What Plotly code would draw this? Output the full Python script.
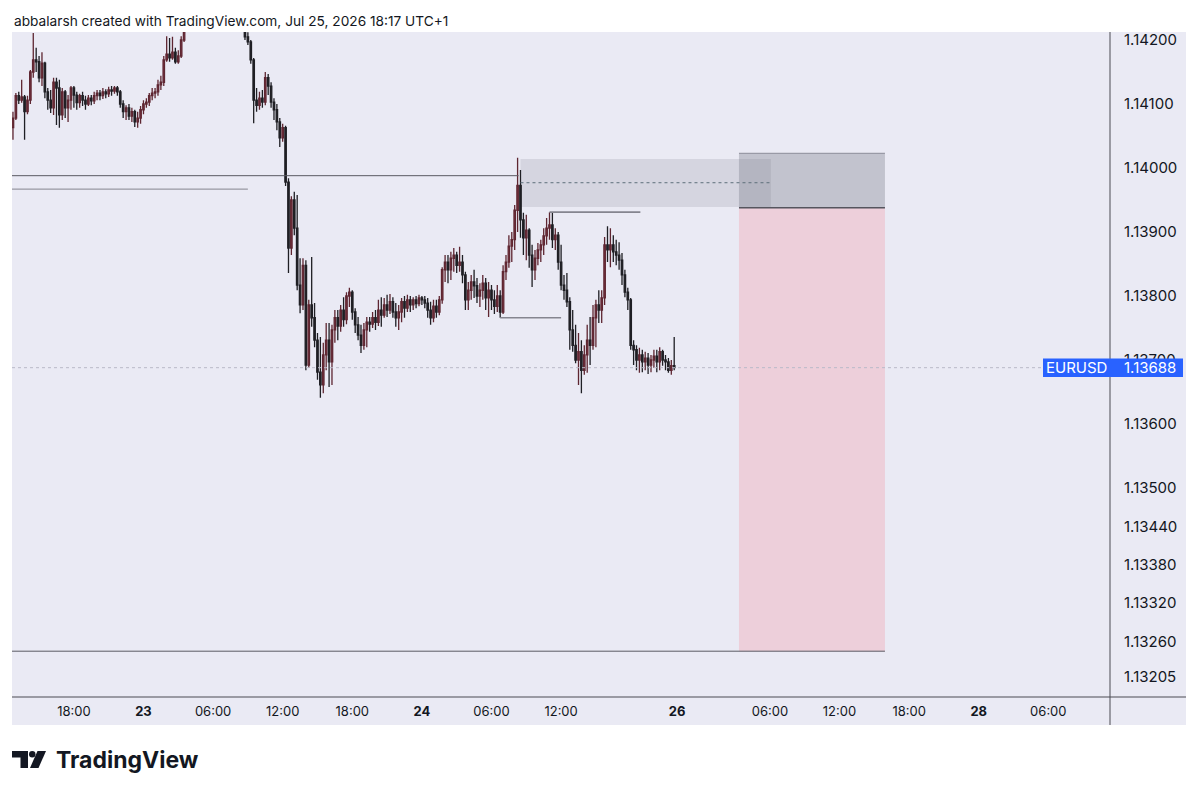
import pandas as pd
import plotly.graph_objects as go

# EURUSD 15 min candles, Jul 22 12:45 -> Jul 24 21:45 (UTC+1)
times = pd.date_range("2026-07-22 12:45", periods=229, freq="15min")

opens = [
    1.14063, 1.14078, 1.14113, 1.14106, 1.14111, 1.14088, 1.14106, 1.14150, 1.14169, 1.14166,
    1.14141, 1.14164, 1.14119, 1.14106, 1.14094, 1.14134, 1.14125, 1.14083, 1.14119, 1.14094,
    1.14106, 1.14125, 1.14114, 1.14102, 1.14113, 1.14106, 1.14100, 1.14109, 1.14105, 1.14113,
    1.14117, 1.14113, 1.14119, 1.14116, 1.14122, 1.14120, 1.14125, 1.14119, 1.14100, 1.14088,
    1.14094, 1.14081, 1.14088, 1.14072, 1.14078, 1.14091, 1.14100, 1.14103, 1.14113, 1.14117,
    1.14119, 1.14130, 1.14134, 1.14169, 1.14178, 1.14172, 1.14181, 1.14166, 1.14175, 1.14200,
    1.14219, 1.14236, 1.14248, 1.14244, 1.14252, 1.14264, 1.14256, 1.14260, 1.14276, 1.14270,
    1.14266, 1.14256, 1.14268, 1.14262, 1.14254, 1.14258, 1.14250, 1.14242, 1.14246, 1.14238,
    1.14228, 1.14205, 1.14197, 1.14169, 1.14106, 1.14098, 1.14109, 1.14103, 1.14141, 1.14128,
    1.14103, 1.14091, 1.14072, 1.14047, 1.14063, 1.13978, 1.13875, 1.13950, 1.13906, 1.13817,
    1.13786, 1.13848, 1.13692, 1.13786, 1.13766, 1.13731, 1.13681, 1.13661, 1.13708, 1.13731,
    1.13697, 1.13747, 1.13766, 1.13753, 1.13778, 1.13763, 1.13800, 1.13806, 1.13775, 1.13755,
    1.13739, 1.13723, 1.13747, 1.13759, 1.13756, 1.13766, 1.13759, 1.13778, 1.13770, 1.13786,
    1.13778, 1.13791, 1.13775, 1.13766, 1.13775, 1.13791, 1.13781, 1.13794, 1.13786, 1.13794,
    1.13788, 1.13797, 1.13794, 1.13789, 1.13778, 1.13766, 1.13784, 1.13775, 1.13794, 1.13841,
    1.13853, 1.13841, 1.13859, 1.13864, 1.13848, 1.13853, 1.13833, 1.13794, 1.13809, 1.13822,
    1.13816, 1.13800, 1.13809, 1.13820, 1.13797, 1.13809, 1.13794, 1.13784, 1.13800, 1.13775,
    1.13838, 1.13853, 1.13878, 1.13888, 1.13934, 1.13973, 1.13919, 1.13891, 1.13903, 1.13864,
    1.13841, 1.13859, 1.13872, 1.13880, 1.13894, 1.13906, 1.13911, 1.13888, 1.13895, 1.13853,
    1.13817, 1.13809, 1.13791, 1.13747, 1.13723, 1.13700, 1.13713, 1.13684, 1.13708, 1.13731,
    1.13723, 1.13766, 1.13786, 1.13778, 1.13797, 1.13880, 1.13872, 1.13880, 1.13869, 1.13864,
    1.13856, 1.13833, 1.13806, 1.13794, 1.13723, 1.13716, 1.13700, 1.13708, 1.13697, 1.13703,
    1.13692, 1.13700, 1.13706, 1.13697, 1.13713, 1.13700, 1.13697, 1.13684, 1.13691,
]
highs = [
    1.14088, 1.14117, 1.14119, 1.14138, 1.14114, 1.14113, 1.14153, 1.14211, 1.14188, 1.14175,
    1.14181, 1.14166, 1.14125, 1.14122, 1.14141, 1.14141, 1.14138, 1.14125, 1.14122, 1.14114,
    1.14128, 1.14128, 1.14119, 1.14116, 1.14119, 1.14113, 1.14114, 1.14114, 1.14119, 1.14122,
    1.14122, 1.14125, 1.14123, 1.14127, 1.14128, 1.14128, 1.14128, 1.14122, 1.14106, 1.14098,
    1.14100, 1.14094, 1.14091, 1.14088, 1.14097, 1.14106, 1.14109, 1.14117, 1.14125, 1.14125,
    1.14138, 1.14144, 1.14175, 1.14206, 1.14203, 1.14205, 1.14188, 1.14184, 1.14206, 1.14228,
    1.14242, 1.14255, 1.14262, 1.14258, 1.14270, 1.14275, 1.14268, 1.14282, 1.14290, 1.14284,
    1.14278, 1.14272, 1.14280, 1.14274, 1.14266, 1.14268, 1.14262, 1.14256, 1.14258, 1.14250,
    1.14238, 1.14212, 1.14200, 1.14172, 1.14125, 1.14119, 1.14122, 1.14150, 1.14147, 1.14134,
    1.14109, 1.14100, 1.14078, 1.14069, 1.14066, 1.13984, 1.13956, 1.13963, 1.13958, 1.13859,
    1.13859, 1.13856, 1.13794, 1.13861, 1.13789, 1.13742, 1.13736, 1.13727, 1.13758, 1.13758,
    1.13755, 1.13778, 1.13778, 1.13786, 1.13798, 1.13806, 1.13813, 1.13809, 1.13781, 1.13767,
    1.13755, 1.13758, 1.13767, 1.13767, 1.13775, 1.13778, 1.13794, 1.13798, 1.13797, 1.13802,
    1.13803, 1.13798, 1.13789, 1.13786, 1.13797, 1.13800, 1.13802, 1.13800, 1.13798, 1.13800,
    1.13802, 1.13800, 1.13800, 1.13797, 1.13791, 1.13794, 1.13794, 1.13800, 1.13845, 1.13864,
    1.13864, 1.13869, 1.13875, 1.13869, 1.13877, 1.13864, 1.13838, 1.13822, 1.13833, 1.13841,
    1.13828, 1.13820, 1.13833, 1.13828, 1.13822, 1.13817, 1.13809, 1.13817, 1.13809, 1.13848,
    1.13864, 1.13895, 1.13900, 1.13942, 1.14016, 1.13997, 1.13930, 1.13927, 1.13906, 1.13880,
    1.13872, 1.13883, 1.13888, 1.13906, 1.13922, 1.13931, 1.13930, 1.13906, 1.13900, 1.13880,
    1.13833, 1.13836, 1.13798, 1.13778, 1.13755, 1.13742, 1.13731, 1.13723, 1.13755, 1.13767,
    1.13786, 1.13794, 1.13809, 1.13809, 1.13892, 1.13909, 1.13906, 1.13895, 1.13888, 1.13884,
    1.13867, 1.13841, 1.13813, 1.13797, 1.13731, 1.13723, 1.13719, 1.13716, 1.13713, 1.13711,
    1.13708, 1.13716, 1.13716, 1.13720, 1.13716, 1.13708, 1.13703, 1.13700, 1.13736,
]
lows = [
    1.14044, 1.14075, 1.14100, 1.14102, 1.14044, 1.14084, 1.14100, 1.14141, 1.14150, 1.14134,
    1.14128, 1.14109, 1.14091, 1.14086, 1.14083, 1.14067, 1.14063, 1.14075, 1.14078, 1.14072,
    1.14091, 1.14094, 1.14091, 1.14094, 1.14097, 1.14091, 1.14097, 1.14098, 1.14100, 1.14106,
    1.14106, 1.14108, 1.14109, 1.14111, 1.14113, 1.14116, 1.14113, 1.14094, 1.14078, 1.14075,
    1.14075, 1.14072, 1.14064, 1.14063, 1.14069, 1.14084, 1.14094, 1.14097, 1.14106, 1.14109,
    1.14113, 1.14122, 1.14128, 1.14166, 1.14166, 1.14169, 1.14163, 1.14163, 1.14172, 1.14197,
    1.14216, 1.14230, 1.14238, 1.14234, 1.14246, 1.14250, 1.14244, 1.14255, 1.14262, 1.14258,
    1.14250, 1.14246, 1.14255, 1.14248, 1.14240, 1.14244, 1.14236, 1.14232, 1.14230, 1.14222,
    1.14200, 1.14192, 1.14163, 1.14070, 1.14088, 1.14091, 1.14094, 1.14098, 1.14114, 1.14094,
    1.14075, 1.14059, 1.14033, 1.14041, 1.13972, 1.13836, 1.13864, 1.13895, 1.13809, 1.13773,
    1.13778, 1.13684, 1.13688, 1.13752, 1.13720, 1.13669, 1.13641, 1.13648, 1.13684, 1.13658,
    1.13661, 1.13727, 1.13731, 1.13744, 1.13752, 1.13756, 1.13783, 1.13763, 1.13742, 1.13731,
    1.13711, 1.13716, 1.13720, 1.13744, 1.13750, 1.13747, 1.13753, 1.13752, 1.13766, 1.13767,
    1.13772, 1.13766, 1.13752, 1.13747, 1.13759, 1.13766, 1.13775, 1.13775, 1.13778, 1.13781,
    1.13784, 1.13786, 1.13781, 1.13766, 1.13755, 1.13759, 1.13766, 1.13770, 1.13788, 1.13822,
    1.13820, 1.13825, 1.13838, 1.13836, 1.13838, 1.13820, 1.13778, 1.13778, 1.13794, 1.13797,
    1.13789, 1.13783, 1.13794, 1.13778, 1.13767, 1.13778, 1.13772, 1.13775, 1.13766, 1.13772,
    1.13825, 1.13844, 1.13853, 1.13872, 1.13900, 1.13891, 1.13864, 1.13856, 1.13844, 1.13814,
    1.13825, 1.13848, 1.13853, 1.13864, 1.13880, 1.13888, 1.13875, 1.13872, 1.13841, 1.13809,
    1.13794, 1.13783, 1.13716, 1.13713, 1.13695, 1.13661, 1.13648, 1.13677, 1.13680, 1.13692,
    1.13716, 1.13720, 1.13758, 1.13758, 1.13786, 1.13853, 1.13845, 1.13853, 1.13848, 1.13841,
    1.13817, 1.13798, 1.13778, 1.13716, 1.13692, 1.13684, 1.13680, 1.13681, 1.13684, 1.13678,
    1.13681, 1.13688, 1.13681, 1.13684, 1.13691, 1.13684, 1.13680, 1.13677, 1.13684,
]
closes = [
    1.14078, 1.14113, 1.14106, 1.14111, 1.14088, 1.14106, 1.14150, 1.14169, 1.14166, 1.14141,
    1.14164, 1.14119, 1.14106, 1.14094, 1.14134, 1.14125, 1.14083, 1.14119, 1.14094, 1.14106,
    1.14125, 1.14114, 1.14102, 1.14113, 1.14106, 1.14100, 1.14109, 1.14105, 1.14113, 1.14117,
    1.14113, 1.14119, 1.14116, 1.14122, 1.14120, 1.14125, 1.14119, 1.14100, 1.14088, 1.14094,
    1.14081, 1.14088, 1.14072, 1.14078, 1.14091, 1.14100, 1.14103, 1.14113, 1.14117, 1.14119,
    1.14130, 1.14134, 1.14169, 1.14178, 1.14172, 1.14181, 1.14166, 1.14175, 1.14200, 1.14219,
    1.14236, 1.14248, 1.14244, 1.14252, 1.14264, 1.14256, 1.14260, 1.14276, 1.14270, 1.14266,
    1.14256, 1.14268, 1.14262, 1.14254, 1.14258, 1.14250, 1.14242, 1.14246, 1.14238, 1.14228,
    1.14205, 1.14197, 1.14169, 1.14106, 1.14098, 1.14109, 1.14103, 1.14141, 1.14128, 1.14103,
    1.14091, 1.14072, 1.14047, 1.14063, 1.13978, 1.13875, 1.13950, 1.13906, 1.13817, 1.13786,
    1.13848, 1.13692, 1.13786, 1.13766, 1.13731, 1.13681, 1.13661, 1.13708, 1.13731, 1.13697,
    1.13747, 1.13766, 1.13753, 1.13778, 1.13763, 1.13800, 1.13806, 1.13775, 1.13755, 1.13739,
    1.13723, 1.13747, 1.13759, 1.13756, 1.13766, 1.13759, 1.13778, 1.13770, 1.13786, 1.13778,
    1.13791, 1.13775, 1.13766, 1.13775, 1.13791, 1.13781, 1.13794, 1.13786, 1.13794, 1.13788,
    1.13797, 1.13794, 1.13789, 1.13778, 1.13766, 1.13784, 1.13775, 1.13794, 1.13841, 1.13853,
    1.13841, 1.13859, 1.13864, 1.13848, 1.13853, 1.13833, 1.13794, 1.13809, 1.13822, 1.13816,
    1.13800, 1.13809, 1.13820, 1.13797, 1.13809, 1.13794, 1.13784, 1.13800, 1.13775, 1.13838,
    1.13853, 1.13878, 1.13888, 1.13934, 1.13973, 1.13919, 1.13891, 1.13903, 1.13864, 1.13841,
    1.13859, 1.13872, 1.13880, 1.13894, 1.13906, 1.13911, 1.13888, 1.13895, 1.13853, 1.13817,
    1.13809, 1.13791, 1.13747, 1.13723, 1.13700, 1.13713, 1.13684, 1.13708, 1.13731, 1.13723,
    1.13766, 1.13786, 1.13778, 1.13797, 1.13880, 1.13872, 1.13880, 1.13869, 1.13864, 1.13856,
    1.13833, 1.13806, 1.13794, 1.13723, 1.13716, 1.13700, 1.13708, 1.13697, 1.13703, 1.13692,
    1.13700, 1.13706, 1.13697, 1.13713, 1.13700, 1.13697, 1.13684, 1.13691, 1.13688,
]

last_price = 1.13688

# drawn levels on the chart: (price, start, end)
levels = [
    (1.13988, "2026-07-22 12:40", "2026-07-24 08:20"),
    (1.13967, "2026-07-22 12:40", "2026-07-23 09:00"),
    (1.13931, "2026-07-24 11:00", "2026-07-24 18:50"),
    (1.13766, "2026-07-24 06:45", "2026-07-24 12:00"),
    (1.13245, "2026-07-22 12:40", "2026-07-27 15:55"),
]
zone_top, zone_mid, zone_bottom = 1.14014, 1.13977, 1.13939
zone_start, zone_end = "2026-07-24 08:30", "2026-07-27 06:05"
stop_price, entry_price, target_price = 1.14023, 1.13938, 1.13245
pos_start, pos_end = "2026-07-27 03:20", "2026-07-27 15:55"

price_ticks = [1.14200, 1.14100, 1.14000, 1.13900, 1.13800, 1.13700, 1.13600,
               1.13500, 1.13440, 1.13380, 1.13320, 1.13260, 1.13205]
time_ticks = ["2026-07-22 18:00", "2026-07-23 00:00", "2026-07-23 06:00", "2026-07-23 12:00",
              "2026-07-23 18:00", "2026-07-24 00:00", "2026-07-24 06:00", "2026-07-24 12:00",
              "2026-07-26 22:00", "2026-07-27 06:00", "2026-07-27 12:00", "2026-07-27 18:00",
              "2026-07-28 00:00", "2026-07-28 06:00"]
time_labels = ["18:00", "<b>23</b>", "06:00", "12:00", "18:00", "<b>24</b>", "06:00", "12:00",
               "<b>26</b>", "06:00", "12:00", "18:00", "<b>28</b>", "06:00"]

# the page body adds an 8px offset, so the figure is 8px smaller and
# everything below is given in page pixels
OFF = 8
FW, FH = 1200 - OFF, 794 - OFF
L, R, T, B = 12, 1110, 32, 697  # plot box, page pixels
BG = "#EAEAF4"
INK = "#131722"


def px(x):
    return (x - L) / (R - L)


def py(y):
    return (B - y) / (B - T)


fig = go.Figure()
fig.add_trace(go.Candlestick(
    x=times, open=opens, high=highs, low=lows, close=closes,
    increasing=dict(line=dict(color="#5e2631", width=1.3), fillcolor="#B04A5E"),
    decreasing=dict(line=dict(color="#1f1f24", width=1.3), fillcolor="#1f1f24"),
    whiskerwidth=0, hoverinfo="skip", showlegend=False,
))

shapes = []
# lavender axis panes + separators
shapes.append(dict(type="rect", xref="paper", yref="paper", x0=px(1110), x1=px(1186),
                   y0=py(697), y1=py(32), fillcolor=BG, line_width=0, layer="below"))
shapes.append(dict(type="rect", xref="paper", yref="paper", x0=px(12), x1=px(1186),
                   y0=py(725), y1=py(697), fillcolor=BG, line_width=0, layer="below"))
shapes.append(dict(type="line", xref="paper", yref="paper", x0=px(1110), x1=px(1110),
                   y0=py(725), y1=py(32), line=dict(color="#4a4a52", width=1)))
shapes.append(dict(type="line", xref="paper", yref="paper", x0=px(12), x1=px(1186),
                   y0=0, y1=0, line=dict(color="#4a4a52", width=1)))

# zone box with dotted mid line
shapes.append(dict(type="rect", x0=zone_start, x1=zone_end, y0=zone_bottom, y1=zone_top,
                   fillcolor="rgba(150,150,162,0.25)", line_width=0, layer="below"))
shapes.append(dict(type="line", x0=zone_start, x1=zone_end, y0=zone_mid, y1=zone_mid,
                   line=dict(color="#5d6f7a", width=1, dash="dot")))

# short position tool
shapes.append(dict(type="rect", x0=pos_start, x1=pos_end, y0=target_price, y1=entry_price,
                   fillcolor="#EDCFDA", line_width=0, layer="below"))
shapes.append(dict(type="rect", x0=pos_start, x1=pos_end, y0=entry_price, y1=stop_price,
                   fillcolor="rgba(120,123,134,0.35)", line_width=0, layer="below"))
shapes.append(dict(type="line", x0=pos_start, x1=pos_end, y0=stop_price, y1=stop_price,
                   line=dict(color="rgba(110,110,122,0.7)", width=1)))
shapes.append(dict(type="line", x0=pos_start, x1=pos_end, y0=entry_price, y1=entry_price,
                   line=dict(color="#55555e", width=1.5)))

# horizontal levels
for i, (p, t0, t1) in enumerate(levels):
    col = "#5a5a63" if i in (0, 4) else "#85858f"
    w = 1 if i in (0, 1, 4) else 1.6
    shapes.append(dict(type="line", x0=t0, x1=t1, y0=p, y1=p, line=dict(color=col, width=w)))

# last price line
shapes.append(dict(type="line", xref="paper", x0=0, x1=1, y0=last_price, y1=last_price,
                   line=dict(color="#b9b9c8", width=1, dash="dot")))

# price label
shapes.append(dict(type="rect", xref="paper", x0=px(1043), x1=px(1183),
                   y0=last_price - 0.000145, y1=last_price + 0.000145,
                   fillcolor="#2962FF", line_width=0))


# TradingView logo mark
def path(points):
    return "M " + " L ".join(f"{px(x)},{py(y)}" for x, y in points) + " Z"


shapes.append(dict(type="path", xref="paper", yref="paper", fillcolor=INK, line_width=0,
                   path=path([(12, 751), (28, 751), (28, 768), (20.5, 768), (20.5, 757.5), (12, 757.5)])))
shapes.append(dict(type="circle", xref="paper", yref="paper", fillcolor=INK, line_width=0,
                   x0=px(29), x1=px(35.5), y0=py(757.5), y1=py(751)))
shapes.append(dict(type="path", xref="paper", yref="paper", fillcolor=INK, line_width=0,
                   path=path([(37.5, 751), (46, 751), (38.5, 768), (30, 768)])))

annotations = [
    dict(xref="paper", yref="paper", x=px(12), y=py(21), xanchor="left", yanchor="middle",
         text="abbalarsh created with TradingView.com, Jul 25, 2026 18:17 UTC+1",
         showarrow=False, font=dict(family="Inter", size=13.7, color=INK)),
    dict(xref="paper", yref="paper", x=px(54), y=py(760), xanchor="left", yanchor="middle",
         text="<b>TradingView</b>", showarrow=False,
         font=dict(family="Inter", size=23, color=INK)),
    dict(xref="paper", yref="y", x=px(1076), y=last_price, xanchor="center", yanchor="middle",
         text="EURUSD", showarrow=False, font=dict(family="Inter", size=15, color="white")),
    dict(xref="paper", yref="y", x=px(1150), y=last_price, xanchor="center", yanchor="middle",
         text=f"{last_price:.5f}", showarrow=False, font=dict(family="Inter", size=15, color="white")),
]

fig.update_layout(
    width=FW, height=FH,
    margin=dict(l=L - OFF, r=FW - (R - OFF), t=T - OFF, b=FH - (B - OFF)),
    paper_bgcolor="white", plot_bgcolor=BG,
    shapes=shapes, annotations=annotations,
    font=dict(family="Inter", color=INK),
    xaxis=dict(
        type="date",
        range=["2026-07-22 12:40", "2026-07-28 11:19"],
        rangebreaks=[dict(values=["2026-07-24 22:00:00"], dvalue=2 * 24 * 3600 * 1000)],
        rangeslider=dict(visible=False),
        tickvals=time_ticks, ticktext=time_labels,
        ticks="outside", ticklen=2, tickcolor="rgba(0,0,0,0)",
        tickfont=dict(family="Inter", size=13, color=INK),
        showgrid=False, zeroline=False, showline=False, fixedrange=True,
    ),
    yaxis=dict(
        side="right",
        range=[1.1317344, 1.142125],
        tickvals=price_ticks, ticktext=[f"{v:.5f}" for v in price_ticks],
        ticks="outside", ticklen=10, tickcolor="rgba(0,0,0,0)",
        tickfont=dict(family="Inter", size=15, color=INK),
        showgrid=False, zeroline=False, showline=False, fixedrange=True,
    ),
)

fig.write_html("out.html")
